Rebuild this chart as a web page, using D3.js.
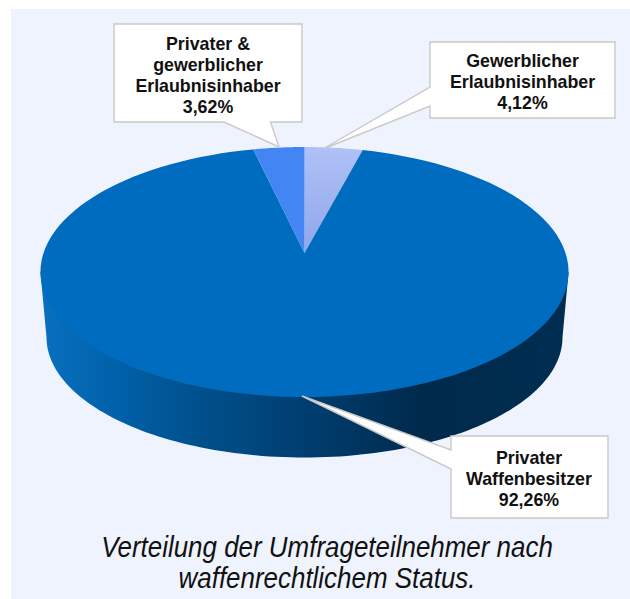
<!DOCTYPE html>
<html><head><meta charset="utf-8">
<script src="https://cdn.jsdelivr.net/npm/d3@7"></script>
<style>html,body{margin:0;padding:0;background:#fff}svg{display:block}</style>
</head><body><svg id="c" width="630" height="599"></svg>
<script>
const categories = ["Gewerblicher Erlaubnisinhaber","Privater Waffenbesitzer","Privater & gewerblicher Erlaubnisinhaber"];
const values = [4.12, 92.26, 3.62];
const valueLabels = ["4,12%","92,26%","3,62%"];
const labelLines = [["Gewerblicher","Erlaubnisinhaber"],["Privater","Waffenbesitzer"],["Privater &","gewerblicher","Erlaubnisinhaber"]];
const sliceFills = ["url(#lightGrad)","#006cbf","#4385f3"];
const titleLines = ["Verteilung der Umfrageteilnehmer nach","waffenrechtlichem Status."];

const svg = d3.select("#c");
const defs = svg.append("defs");
const lg = defs.append("linearGradient").attr("id","lightGrad").attr("gradientUnits","userSpaceOnUse")
  .attr("x1",0).attr("x2",0).attr("y1",147).attr("y2",253);
lg.append("stop").attr("offset",0).attr("stop-color","#b0c1f7");
lg.append("stop").attr("offset",1).attr("stop-color","#8fa6e9");
const sg = defs.append("linearGradient").attr("id","sideGrad").attr("gradientUnits","userSpaceOnUse")
  .attr("x1",41).attr("x2",569).attr("y1",0).attr("y2",0);
[[0,"#0870c0"],[0.15,"#0060a8"],[0.3,"#00508c"],[0.5,"#003e70"],[0.72,"#002a4c"],[1,"#002d50"]]
 .forEach(s=>sg.append("stop").attr("offset",s[0]).attr("stop-color",s[1]));

svg.append("rect").attr("x",11).attr("y",9).attr("width",619).attr("height",590).attr("fill","#eff3fe");

// perspective disc projection
const k = 0.152, A = 261, B = 122.1, CX = 304.5, CY = 253;
const proj = (t, o) => {
  const u = Math.sin(t), v = Math.cos(t), w = 1 + k*v;
  const sx = o ? o.sx : 1, sy = o ? o.sy : 1, cy = o ? o.cy : CY;
  return [CX + sx*A*u/w, cy - sy*B*v/w];
};
const bottom = {sx:0.977, sy:0.962, cy:319};
const line = d3.line();
const tangent = Math.acos(-k);
const steps = 120;
const sample = (a,b,o) => d3.range(steps+1).map(i => proj(a+(b-a)*i/steps,o));

// side wall (its upper edge runs under the top face, so no seam shows)
const topEnds = [proj(tangent),[CX,CY],proj(2*Math.PI-tangent)];
const botFront = sample(2*Math.PI-tangent, tangent, bottom);
svg.append("path").attr("d", line(topEnds.concat(botFront))+"Z").attr("fill","url(#sideGrad)");

// top face
const arcs = d3.pie().sort(null).value(d=>d)(values);
svg.selectAll("path.slice").data(arcs).join("path").attr("class","slice")
  .attr("d", d => line([[CX,CY]].concat(sample(d.startAngle,d.endAngle)))+"Z")
  .attr("fill",(d,i)=>sliceFills[i]);

// callouts
const callouts = [
  {box:[430,42,615,118], cx:522.5, y0:66.5, side:"l", tip:[323,149], p:[87,106]},
  {box:[451,436,608,518], cx:529, y0:463.5, side:"l", tip:[302,396], p:[450,469]},
  {box:[114,24,302,122], cx:208, y0:49.5, side:"b", tip:[279,147], p:[224,270.5]}
];
callouts.forEach((c,i)=>{
  const [x0,y0,x1,y1]=c.box;
  const pts = c.side==="l"
    ? [[x0,y0],[x1,y0],[x1,y1],[x0,y1],[x0,c.p[1]],c.tip,[x0,c.p[0]]]
    : [[x0,y0],[x1,y0],[x1,y1],[c.p[1],y1],c.tip,[c.p[0],y1],[x0,y1]];
  svg.append("path").attr("d",line(pts)+"Z").attr("fill","#fff").attr("stroke","#c9c9c9").attr("stroke-width",1.4).attr("stroke-linejoin","miter");
  const lines = labelLines[i].concat([valueLabels[i]]);
  svg.append("g").selectAll("text").data(lines).join("text")
    .attr("x",c.cx).attr("y",(d,j)=>c.y0+j*21)
    .attr("text-anchor","middle").attr("font-family","'Liberation Sans',Arial,sans-serif")
    .attr("font-weight","bold").attr("font-size",17.8).attr("fill","#111").text(d=>d);
});

svg.append("g").selectAll("text").data(titleLines).join("text")
  .attr("transform",(d,i)=>`translate(327,${557+i*31}) scale(0.865,1)`)
  .attr("text-anchor","middle").attr("font-family","'Liberation Sans',sans-serif")
  .attr("font-style","italic").attr("font-size",30).attr("fill","#111").text(d=>d);
</script></body></html>
